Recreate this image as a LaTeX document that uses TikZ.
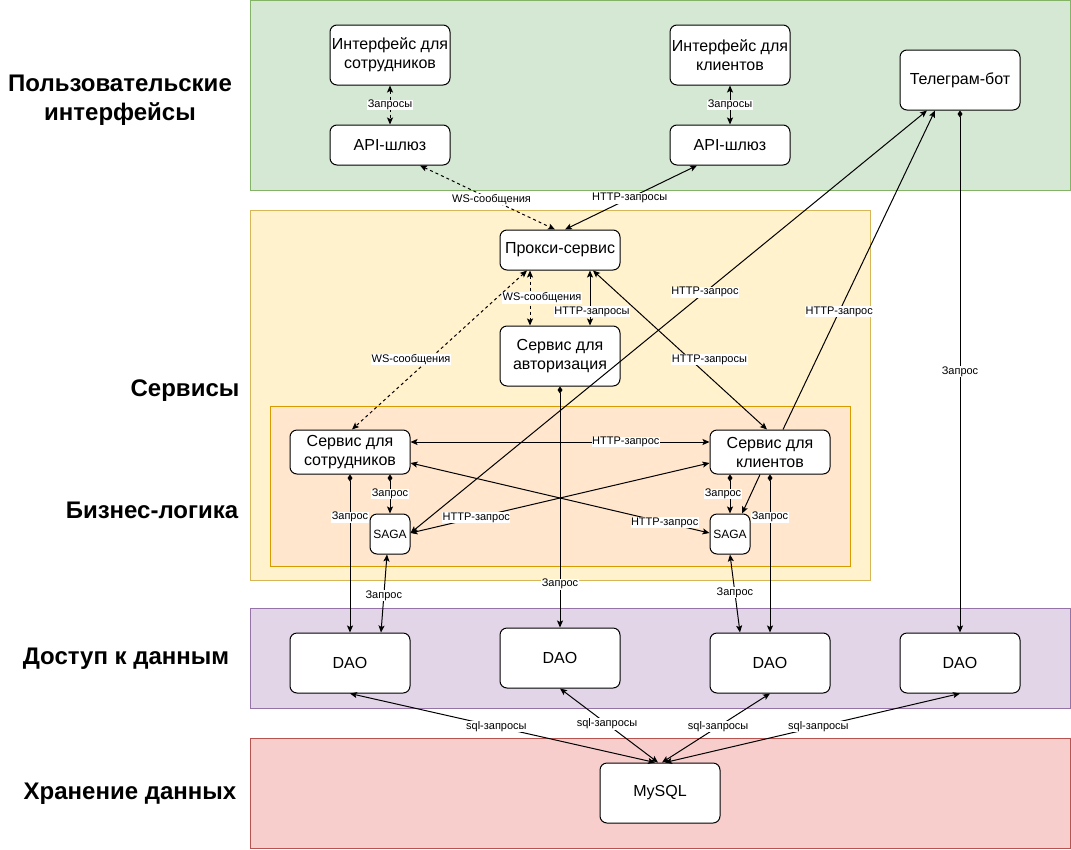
\documentclass[tikz,border=0pt]{standalone}
\usepackage{fontspec}
\setmainfont{Liberation Sans}
\usetikzlibrary{arrows.meta,calc}
\definecolor{gfill}{HTML}{D5E8D4}\definecolor{gdraw}{HTML}{82B366}
\definecolor{yfill}{HTML}{FFF2CC}\definecolor{ydraw}{HTML}{D6B656}
\definecolor{ofill}{HTML}{FFE6CC}\definecolor{odraw}{HTML}{D79B00}
\definecolor{pfill}{HTML}{E1D5E7}\definecolor{pdraw}{HTML}{9673A6}
\definecolor{rfill}{HTML}{F8CECC}\definecolor{rdraw}{HTML}{B85450}
\begin{document}
\begin{tikzpicture}[x=1pt,y=-1pt,
  box/.style={draw, fill=white, rounded corners=7pt, line width=1pt, align=center,
    font=\fontsize{16}{19}\selectfont, inner sep=0pt},
  bigbox/.style={box, minimum width=120pt, minimum height=60pt},
  midbox/.style={box, minimum width=120pt, minimum height=40pt},
  svcbox/.style={box, minimum width=120pt, minimum height=44pt},
  sagabox/.style={box, minimum width=40pt, minimum height=40pt, font=\fontsize{12}{14}\selectfont},
  layer/.style={align=center, font=\fontsize{24}{29}\selectfont\bfseries},
  lbl/.style={fill=white, inner sep=0.5pt, font=\fontsize{11}{13}\selectfont},
  tip/.tip={Stealth[length=7pt,width=6pt,inset=1.5pt]},
  dtip/.tip={Diamond[length=7pt,width=5pt]},
  con/.style={line width=1pt, tip-tip},
  arr/.style={line width=1pt, -tip},
  dmd/.style={line width=1pt, dtip-tip},
  dcon/.style={con, dash pattern=on 3pt off 3pt},
]
\useasboundingbox (0,0) rectangle (1071,849);
% bands
\draw[fill=gfill, draw=gdraw, line width=1pt] (250.5,0.5) rectangle (1070.5,190);
\draw[fill=yfill, draw=ydraw, line width=1pt] (250.5,210) rectangle (870,580);
\draw[fill=ofill, draw=odraw, line width=1pt] (270,406) rectangle (850,566);
\draw[fill=pfill, draw=pdraw, line width=1pt] (250.5,608) rectangle (1070.5,708);
\draw[fill=rfill, draw=rdraw, line width=1pt] (250.5,738) rectangle (1070.5,848);
% layer titles
\node[layer] (l1) at (120,100) {Пользовательские\\интерфейсы};
\node[layer] (l2) at (185,391) {Сервисы};
\node[layer] (l3) at (152,510) {Бизнес-логика};
\node[layer] (l4) at (126,659) {Доступ к данным};
\node[layer] (l5) at (130,794) {Хранение данных};
% nodes
\node[bigbox] (ints) at (390,55) {Интерфейс для\\сотрудников};
\node[midbox] (apis) at (390,145) {API-шлюз};
\node[bigbox] (intc) at (730,55) {Интерфейс для\\клиентов};
\node[midbox] (apic) at (730,145) {API-шлюз};
\node[bigbox] (tg) at (960,80) {Телеграм-бот};
\node[midbox] (proxy) at (560,250) {Прокси-сервис};
\node[bigbox] (auth) at (560,356) {Сервис для\\авторизация};
\node[svcbox] (svcs) at (350,452) {Сервис для\\сотрудников};
\node[svcbox] (svcc) at (770,452) {Сервис для\\клиентов};
\node[sagabox] (sagas) at (390,534) {SAGA};
\node[sagabox] (sagac) at (730,534) {SAGA};
\node[bigbox] (dao1) at (350,663) {DAO};
\node[bigbox] (dao2) at (560,658) {DAO};
\node[bigbox] (dao3) at (770,663) {DAO};
\node[bigbox] (dao4) at (960,663) {DAO};
\node[bigbox] (mysql) at (660,793) {MySQL};
% connectors: UI layer
\draw[dcon] (ints.south) -- node[lbl]{Запросы} (apis.north);
\draw[con] (intc.south) -- node[lbl]{Запросы} (apic.north);
\draw[dcon] ([xshift=30pt]apis.south) -- node[lbl,pos=0.53]{WS-сообщения} ([xshift=-5pt]proxy.north);
\draw[con] ([xshift=-33pt]apic.south) -- node[lbl,pos=0.51]{HTTP-запросы} ([xshift=5pt]proxy.north);
% proxy / auth
\draw[dcon] ([xshift=-30pt]proxy.south) -- node[lbl,pos=0.5,xshift=12pt]{WS-сообщения} ([xshift=-30pt]auth.north);
\draw[con] ([xshift=30pt]proxy.south) -- node[lbl,pos=0.75,xshift=2pt]{HTTP-запросы} ([xshift=30pt]auth.north);
\draw[dcon] ([xshift=-33pt]proxy.south) -- node[lbl,pos=0.56,xshift=-18pt]{WS-сообщения} ([xshift=2pt]svcs.north);
\draw[con] ([xshift=33pt]proxy.south) -- node[lbl,pos=0.56,xshift=19pt]{HTTP-запросы} ([xshift=-3pt]svcc.north);
% telegram
\draw[con] ([xshift=-33pt]tg.south) -- node[lbl,pos=0.43]{HTTP-запрос} ([yshift=1pt]sagas.east);
\draw[arr] ([xshift=13pt]svcc.north) -- node[lbl,pos=0.37]{HTTP-запрос} ([xshift=-25pt]tg.south);
\draw[dmd] (tg.south) -- node[lbl]{Запрос} (dao4.north);
% business logic
\draw[con] ([yshift=10pt]svcs.east) -- node[lbl,pos=0.72]{HTTP-запрос} ([yshift=10pt]svcc.west);
\draw[con] ([yshift=-11pt]svcs.east) -- node[lbl,pos=0.85]{HTTP-запрос} ([yshift=1pt]sagac.west);
\draw[con] ([yshift=-11pt]svcc.west) -- node[lbl,pos=0.78]{HTTP-запрос} ([yshift=1pt]sagas.east);
\draw[dmd] ([xshift=40pt]svcs.south) -- node[lbl]{Запрос} (sagas.north);
\draw[dmd] (svcs.south) -- node[lbl,pos=0.27]{Запрос} (dao1.north);
\draw[con] ([xshift=-3pt]sagas.south) -- node[lbl,pos=0.53]{Запрос} ([xshift=31pt]dao1.north);
\draw[dmd] ([xshift=-40pt]svcc.south) -- node[lbl,xshift=-7pt]{Запрос} (sagac.north);
\draw[arr] ([xshift=-10pt]svcc.south) -- ([xshift=12pt]sagac.north);
\draw[dmd] (svcc.south) -- node[lbl,pos=0.27]{Запрос} (dao3.north);
\draw[con] (sagac.south) -- node[lbl,pos=0.49]{Запрос} ([xshift=-30pt]dao3.north);
\draw[dmd] (auth.south) -- node[lbl,pos=0.82]{Запрос} (dao2.north);
% data
\draw[con] (dao1.south) -- node[lbl,pos=0.48]{sql-запросы} ([xshift=-5pt]mysql.north);
\draw[con] (dao2.south) -- node[lbl,pos=0.48]{sql-запросы} ([xshift=-2pt]mysql.north);
\draw[con] (dao3.south) -- node[lbl,pos=0.48]{sql-запросы} ([xshift=2pt]mysql.north);
\draw[con] (dao4.south) -- node[lbl,pos=0.48]{sql-запросы} ([xshift=5pt]mysql.north);
\end{tikzpicture}
\end{document}
